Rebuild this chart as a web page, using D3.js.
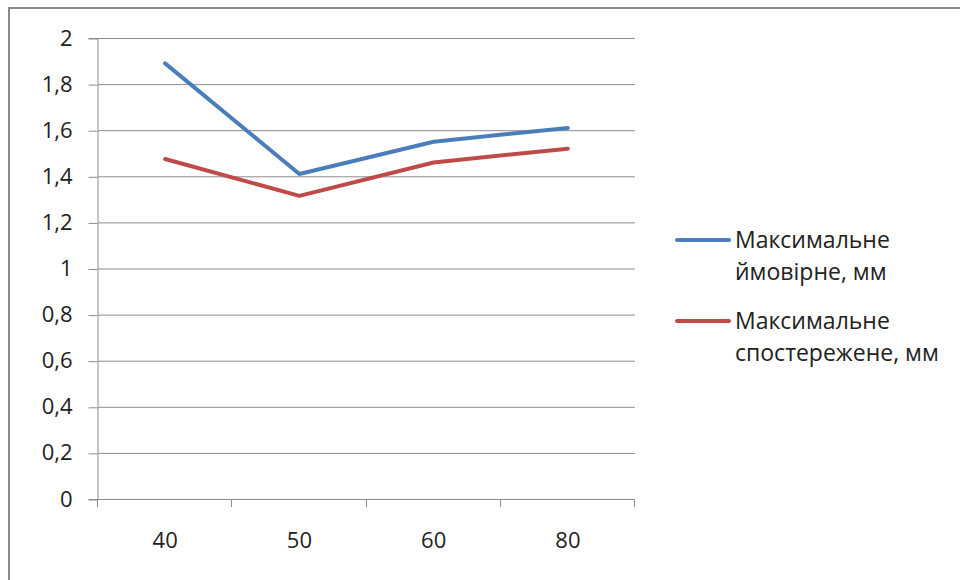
<!DOCTYPE html>
<html><head><meta charset="utf-8">
<script src="https://cdn.jsdelivr.net/npm/d3@7"></script>
<style>body{margin:0;background:#fff;} svg{display:block;font-family:"Open Sans", sans-serif;}</style>
</head><body>
<svg id="c" width="960" height="580"></svg>
<script>
const categories = ["40", "50", "60", "80"];
const seriesNames = ["Максимальне ймовірне, мм", "Максимальне спостережене, мм"];
const probable = [1.89, 1.41, 1.55, 1.61];
const observed = [1.475, 1.315, 1.46, 1.52];
const yTicks = [0, 0.2, 0.4, 0.6, 0.8, 1, 1.2, 1.4, 1.6, 1.8, 2];
const colors = ["#4a7ebb", "#be4b48"];
const legendLines = [["Максимальне", "ймовірне, мм"], ["Максимальне", "спостережене, мм"]];

const svg = d3.select("#c");
svg.append("rect").attr("x", 9).attr("y", 8).attr("width", 960).attr("height", 600)
  .attr("fill", "#fff").attr("stroke", "#8a8a8a").attr("stroke-width", 2);

const L = 98, R = 635, T = 38, B = 499;
const x = d3.scaleBand().domain(categories).range([L, R]);
const y = d3.scaleLinear().domain([0, 2]).range([B, T]);

// gridlines
svg.append("g").selectAll("line").data(yTicks.filter(d => d > 0)).join("line")
  .attr("x1", L).attr("x2", R).attr("y1", d => y(d) + 0.5).attr("y2", d => y(d) + 0.5)
  .attr("stroke", "#8c8c8c").attr("stroke-width", 1);

const fmt = d => String(d).replace(".", ",");
const yAxis = svg.append("g").attr("transform", `translate(${L - 0.5},0)`)
  .call(d3.axisLeft(y).tickValues(yTicks).tickFormat(fmt).tickSize(9).tickPadding(16));
yAxis.selectAll(".tick line").attr("transform", "translate(0,0.5)");
const xAxis = svg.append("g").attr("transform", `translate(0,${B + 0.5})`)
  .call(d3.axisBottom(x).tickSize(0).tickPadding(33));
// x ticks at band boundaries
const bounds = categories.map(c => x(c)).concat([R]);
svg.append("g").selectAll("line").data(bounds).join("line")
  .attr("x1", d => Math.round(d) - 0.5).attr("x2", d => Math.round(d) - 0.5)
  .attr("y1", B).attr("y2", B + 8).attr("stroke", "#8c8c8c");
[yAxis, xAxis].forEach(g => {
  g.selectAll(".domain, .tick line").attr("stroke", "#8c8c8c");
  g.selectAll("text").attr("fill", "#222").style("font-size", "22px").style("font-family", "'Open Sans', sans-serif");
});
xAxis.select(".domain").attr("d", `M${L},0H${R}`);

const line = d3.line().x((d, i) => x(categories[i]) + x.bandwidth() / 2).y(d => y(d));
[probable, observed].forEach((s, i) => {
  svg.append("path").datum(s).attr("d", line).attr("fill", "none")
    .attr("stroke", colors[i]).attr("stroke-width", 4).attr("stroke-linejoin", "round").attr("stroke-linecap", "round");
});

// legend
const lg = svg.append("g");
[240, 321].forEach((ly, i) => {
  lg.append("line").attr("x1", 677).attr("x2", 729).attr("y1", ly).attr("y2", ly)
    .attr("stroke", colors[i]).attr("stroke-width", 4).attr("stroke-linecap", "round");
  const t = lg.append("text").attr("x", 735).attr("y", ly + 8).attr("fill", "#222")
    .style("font-size", "23px");
  legendLines[i].forEach((s, k) => t.append("tspan").attr("x", 735).attr("dy", k ? 32 : 0).text(s));
});
</script>
</body></html>
